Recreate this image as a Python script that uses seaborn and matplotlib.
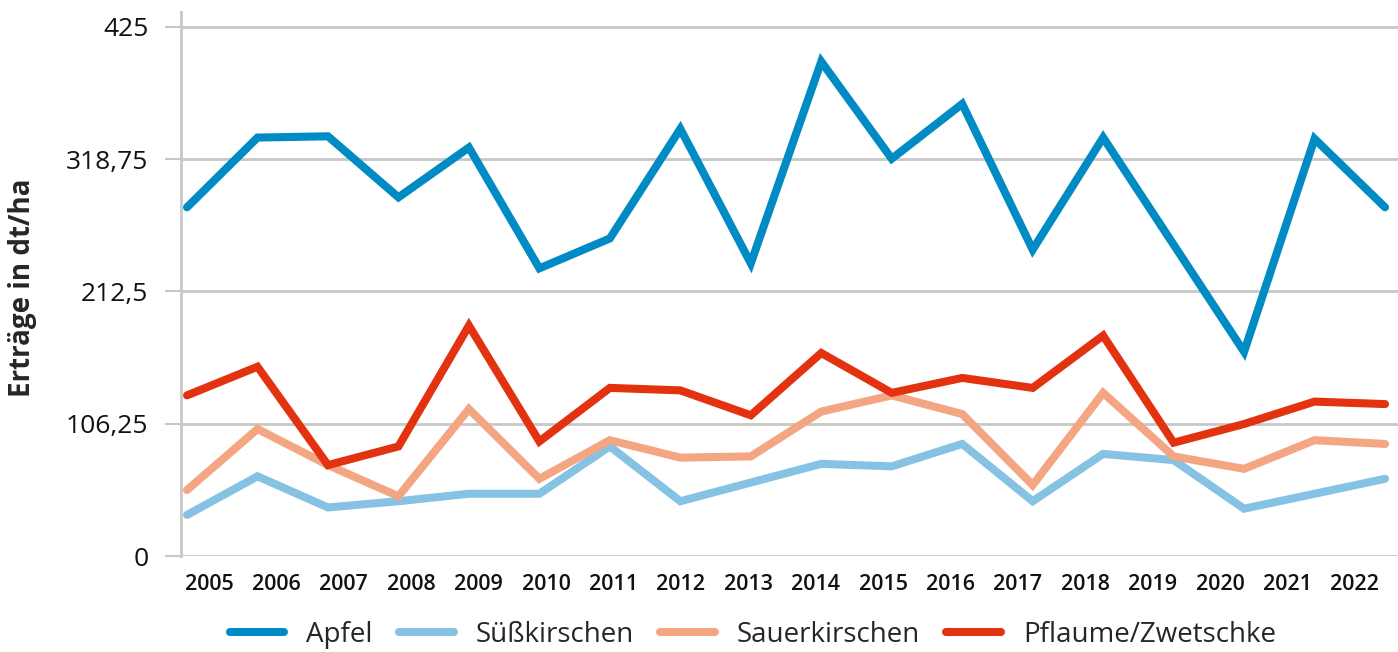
import matplotlib
matplotlib.use("Agg")
import matplotlib.pyplot as plt
import seaborn as sns
import pandas as pd

# Erträge in dt/ha
jahre = list(range(2005, 2023))
apfel = [280, 336, 337, 288, 328, 231, 255, 343, 235, 397, 319, 363, 246, 336, 250, 164, 335, 280]
suesskirschen = [33, 64, 39, 44, 50, 50, 88, 44, 59, 74, 72, 90, 44, 82, 77, 38, 50, 62]
sauerkirschen = [53, 102, 73, 48, 118, 62, 93, 79, 80, 116, 129, 114, 57, 131, 80, 70, 93, 90]
pflaume = [129, 152, 73, 88, 185, 92, 135, 133, 113, 163, 131, 143, 135, 177, 91, 106, 124, 122]

serien = ["Apfel", "Süßkirschen", "Sauerkirschen", "Pflaume/Zwetschke"]
farben = ["#008bc4", "#86c2e4", "#f4a582", "#e3320f"]
y_ticks = [0, 106.25, 212.5, 318.75, 425]
y_tick_labels = ["0", "106,25", "212,5", "318,75", "425"]

df = pd.DataFrame({
    "Jahr": jahre * 4,
    "Ertrag": apfel + suesskirschen + sauerkirschen + pflaume,
    "Sorte": sum([[s] * len(jahre) for s in serien], []),
})

sns.set_theme(style="white")
plt.rcParams["font.family"] = ["Open Sans", "DejaVu Sans"]

fig = plt.figure(figsize=(13.98, 6.52), dpi=100)
ax = fig.add_axes([0.1295, 0.1472, 0.8705, 0.834])

sns.lineplot(data=df, x="Jahr", y="Ertrag", hue="Sorte", hue_order=serien,
             palette=farben, linewidth=5.8, ax=ax, legend=True,
             solid_capstyle="round", solid_joinstyle="miter")

ax.set_xlim(2004.915, 2022.184)
ax.set_ylim(0, 436.6)
ax.set_yticks(y_ticks)
ax.set_yticklabels(y_tick_labels, fontsize=19, fontweight="medium", color="#111111")
ax.set_xticks([])
ax.yaxis.grid(True, color="#c8c8c8", linewidth=2)
ax.xaxis.grid(False)
ax.set_axisbelow(True)
ax.tick_params(axis="y", length=11.5, width=1.5, color="#c8c8c8", pad=12, left=True)

for side in ["top", "right", "bottom"]:
    ax.spines[side].set_visible(False)
ax.spines["left"].set_color("#c8c8c8")
ax.spines["left"].set_linewidth(2)

ax.set_xlabel("")
ax.set_ylabel("Erträge in dt/ha", fontsize=20, fontweight="bold")
ax.yaxis.set_label_coords(-0.1183, 0.4936)

# Jahreslabels stehen im Original etwas enger als die Datenpunkte -> eigene Achse
ax2 = ax.twiny()
ax2.set_xlim(2004.585, 2022.641)
ax2.set_xticks(jahre)
ax2.set_xticklabels([str(j) for j in jahre], fontsize=15.5, fontweight="semibold", color="#111111")
ax2.xaxis.set_ticks_position("bottom")
ax2.tick_params(axis="x", length=0, pad=13)
ax2.grid(False)
for side in ["top", "right", "bottom", "left"]:
    ax2.spines[side].set_visible(False)

handles, labels = ax.get_legend_handles_labels()
ax.get_legend().remove()
for h in handles:
    h.set_solid_capstyle("round")
    h.set_linewidth(5.8)
fig.legend(handles, labels, loc="center", bbox_to_anchor=(0.5386, 0.026), ncol=4,
           frameon=False, handlelength=1.95, columnspacing=0.95,
           handletextpad=0.8, prop={"size": 20, "weight": "medium"})

fig.savefig("out.png", dpi=100)
